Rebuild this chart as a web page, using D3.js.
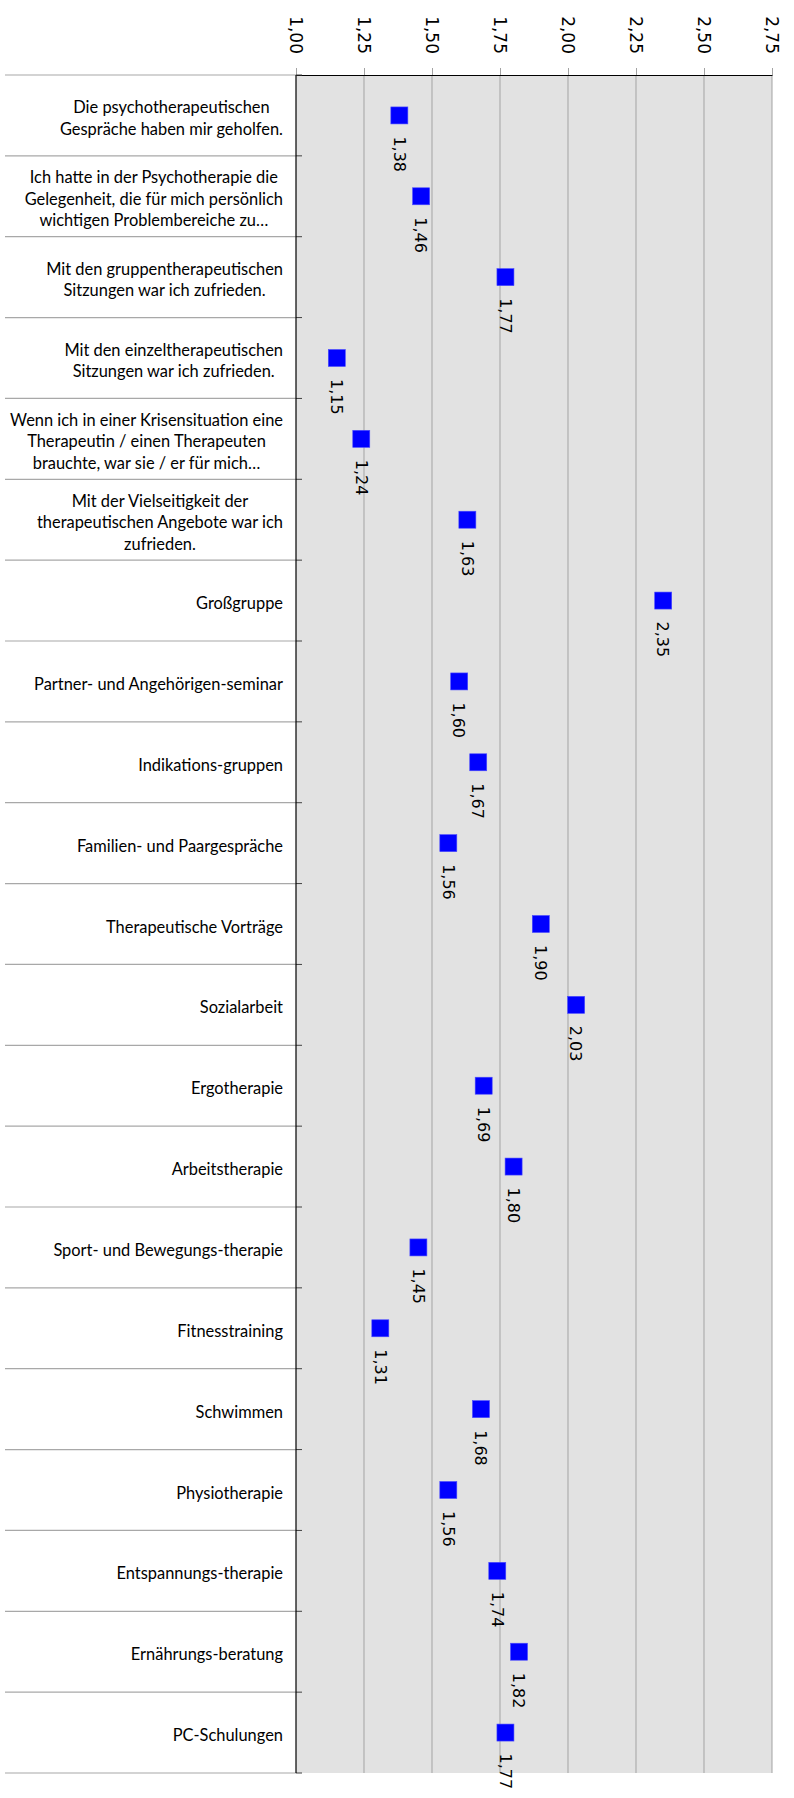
<!DOCTYPE html>
<html lang="de">
<head>
  <meta charset="UTF-8">
  <title>Bewertung der Therapieangebote</title>
  <style>
    body {
      margin: 0;
      background: #ffffff;
    }
    #chart {
      width: 794px;
      height: 1798px;
    }
    .cat {
      font-family: Lato, "Open Sans", sans-serif;
      fill: #000000;
    }
    .num {
      font-family: "DejaVu Sans", sans-serif;
      fill: #000000;
    }
  </style>
  <script src="https://cdn.jsdelivr.net/npm/d3@7"></script>
</head>
<body>
<div id="chart"></div>
<script>
  // categories (line breaks as in the original wrapped labels)
  var categories = [
    ["Die psychotherapeutischen", "Gespräche haben mir geholfen."],
    ["Ich hatte in der Psychotherapie die", "Gelegenheit, die für mich persönlich", "wichtigen Problembereiche zu…"],
    ["Mit den gruppentherapeutischen", "Sitzungen war ich zufrieden."],
    ["Mit den einzeltherapeutischen", "Sitzungen war ich zufrieden."],
    ["Wenn ich in einer Krisensituation eine", "Therapeutin / einen Therapeuten", "brauchte, war sie / er für mich…"],
    ["Mit der Vielseitigkeit der", "therapeutischen Angebote war ich", "zufrieden."],
    ["Großgruppe"],
    ["Partner- und Angehörigen-seminar"],
    ["Indikations-gruppen"],
    ["Familien- und Paargespräche"],
    ["Therapeutische Vorträge"],
    ["Sozialarbeit"],
    ["Ergotherapie"],
    ["Arbeitstherapie"],
    ["Sport- und Bewegungs-therapie"],
    ["Fitnesstraining"],
    ["Schwimmen"],
    ["Physiotherapie"],
    ["Entspannungs-therapie"],
    ["Ernährungs-beratung"],
    ["PC-Schulungen"]
  ];

  var values = [1.38, 1.46, 1.77, 1.15, 1.24, 1.63, 2.35, 1.60, 1.67, 1.56, 1.90,
                2.03, 1.69, 1.80, 1.45, 1.31, 1.68, 1.56, 1.74, 1.82, 1.77];

  var tickValues = [1.00, 1.25, 1.50, 1.75, 2.00, 2.25, 2.50, 2.75];

  var width = 794, height = 1798;
  var plotLeft = 296, plotRight = 772, plotTop = 75, plotBottom = 1773;
  var labelRight = 283;
  var lineGap = 21.7;

  var fmt = function(d) { return d.toFixed(2).replace(".", ","); };

  var svg = d3.select("#chart")
          .append("svg")
          .attr("width", width)
          .attr("height", height);

  var x = d3.scaleLinear()
          .domain([tickValues[0], tickValues[tickValues.length - 1]])
          .range([plotLeft, plotRight]);

  var y = d3.scaleBand()
          .domain(d3.range(categories.length))
          .range([plotTop, plotBottom])
          .padding(0);

  // plot background
  svg.append("rect")
          .attr("x", plotLeft)
          .attr("y", plotTop)
          .attr("width", plotRight - plotLeft)
          .attr("height", plotBottom - plotTop)
          .attr("fill", "#e2e2e2");

  // vertical gridlines
  svg.append("g")
          .selectAll("line")
          .data(tickValues.slice(1))
          .join("line")
          .attr("x1", function(d) { return x(d); })
          .attr("x2", function(d) { return x(d); })
          .attr("y1", plotTop)
          .attr("y2", plotBottom)
          .attr("stroke", "#a3a3a3")
          .attr("stroke-width", 1);

  // top value axis
  var xAxis = d3.axisTop(x)
          .tickValues(tickValues)
          .tickSize(7)
          .tickSizeOuter(0)
          .tickFormat(fmt);

  var gx = svg.append("g")
          .attr("transform", "translate(0," + plotTop + ")")
          .call(xAxis);
  gx.select(".domain").attr("stroke", "#000000");
  gx.selectAll(".tick line").attr("stroke", "#a3a3a3");
  gx.selectAll(".tick text")
          .attr("class", "num")
          .attr("font-size", 17)
          .attr("text-anchor", "end")
          .attr("transform", "rotate(90)")
          .attr("x", -21)
          .attr("y", 0)
          .attr("dy", "0.36em");

  // category separators (band edges)
  var edges = d3.range(categories.length + 1).map(function(i) {
    return i < categories.length ? y(i) : plotBottom;
  });

  svg.append("g")
          .selectAll("line")
          .data(edges)
          .join("line")
          .attr("x1", 5)
          .attr("x2", plotLeft)
          .attr("y1", function(d) { return d; })
          .attr("y2", function(d) { return d; })
          .attr("stroke", "#a8a8a8")
          .attr("stroke-width", 1.2);

  svg.append("g")
          .selectAll("line")
          .data(edges)
          .join("line")
          .attr("x1", plotLeft)
          .attr("x2", plotLeft + 6)
          .attr("y1", function(d) { return d; })
          .attr("y2", function(d) { return d; })
          .attr("stroke", "#404040")
          .attr("stroke-width", 1);

  // left axis line
  svg.append("line")
          .attr("x1", plotLeft)
          .attr("x2", plotLeft)
          .attr("y1", plotTop)
          .attr("y2", plotBottom)
          .attr("stroke", "#000000")
          .attr("stroke-width", 1.2);

  // size the category font so the longest line fits like the original
  var probe = svg.append("text").attr("class", "cat").attr("font-size", 100)
          .text("Wenn ich in einer Krisensituation eine");
  var catSize = 100 * 273 / probe.node().getComputedTextLength();
  probe.remove();

  var cat = svg.append("g")
          .selectAll("g")
          .data(categories)
          .join("g")
          .attr("transform", function(d, i) {
            return "translate(0," + (y(i) + y.bandwidth() / 2 + 2) + ")";
          });

  cat.each(function(lines) {
    var g = d3.select(this);
    var t = g.selectAll("text")
            .data(lines)
            .join("text")
            .attr("class", "cat")
            .attr("font-size", catSize)
            .attr("dominant-baseline", "central")
            .attr("text-anchor", "middle")
            .attr("y", function(d, j) { return (j - (lines.length - 1) / 2) * lineGap; })
            .text(function(d) { return d; });
    var maxW = d3.max(t.nodes(), function(n) { return n.getComputedTextLength(); });
    t.attr("x", labelRight - maxW / 2);
  });

  // markers
  var size = 17;
  svg.append("g")
          .selectAll("rect")
          .data(values)
          .join("rect")
          .attr("x", function(d) { return x(d) - size / 2; })
          .attr("y", function(d, i) { return y(i) + y.bandwidth() / 2 - size / 2; })
          .attr("width", size)
          .attr("height", size)
          .attr("fill", "#0000ff")
          .attr("stroke", "#4a4aff")
          .attr("stroke-width", 0.6);

  // value labels, rotated below each marker
  svg.append("g")
          .selectAll("text")
          .data(values)
          .join("text")
          .attr("class", "num")
          .attr("font-size", 16)
          .attr("text-anchor", "start")
          .attr("dy", "0.36em")
          .attr("transform", function(d, i) {
            return "translate(" + x(d) + "," + (y(i) + y.bandwidth() / 2 + 21) + ") rotate(90)";
          })
          .text(fmt);
</script>
</body>
</html>
